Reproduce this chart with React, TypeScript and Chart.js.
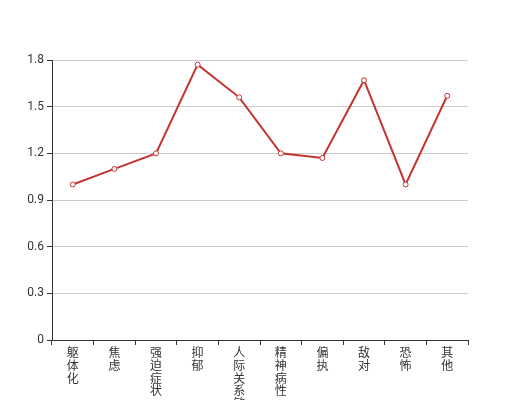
import { useEffect, useRef } from 'react';
import { Chart, registerables } from 'chart.js';

Chart.register(...registerables);

const categories = ['躯体化', '焦虑', '强迫症状', '抑郁', '人际关系敏感', '精神病性', '偏执', '敌对', '恐怖', '其他'];
const values = [1.0, 1.1, 1.2, 1.77, 1.56, 1.2, 1.17, 1.67, 1.0, 1.57];
const yTickValues = [0, 0.3, 0.6, 0.9, 1.2, 1.5, 1.8];

const FONT = "Roboto, 'Noto Sans CJK SC', sans-serif";

export default function App() {
  const ref = useRef<HTMLCanvasElement | null>(null);

  useEffect(() => {
    document.body.style.margin = '0';
    const canvas = ref.current;
    if (!canvas) return;
    const chart = new Chart(canvas, {
      type: 'line',
      data: {
        labels: categories.map((c) => c.split('')),
        datasets: [
          {
            data: values,
            borderColor: '#c23531',
            borderWidth: 2,
            pointRadius: 2.5,
            pointBackgroundColor: '#fff',
            pointBorderColor: '#c23531',
            pointBorderWidth: 1,
            tension: 0,
            fill: false,
          },
        ],
      },
      options: {
        animation: false,
        responsive: true,
        maintainAspectRatio: false,
        layout: { padding: { top: 60, right: 52, left: 0, bottom: 0 } },
        plugins: { legend: { display: false }, tooltip: { enabled: false } },
        scales: {
          x: {
            type: 'category',
            offset: true,
            grid: {
              display: true,
              offset: true,
              drawOnChartArea: false,
              drawTicks: true,
              tickLength: 5,
              color: '#333',
              tickColor: '#333',
            },
            border: { display: true, color: '#333', width: 1 },
            ticks: {
              color: '#333',
              font: { family: FONT, size: 12, lineHeight: 1.05 },
              padding: 3,
              maxRotation: 0,
              autoSkip: false,
            },
            afterFit: (scale: any) => {
              scale.height = 60;
            },
          },
          y: {
            min: 0,
            max: 1.8,
            afterBuildTicks: (scale: any) => {
              scale.ticks = yTickValues.map((v) => ({ value: v }));
            },
            grid: {
              color: '#ccc',
              tickColor: '#333',
              drawTicks: true,
              tickLength: 5,
            },
            border: { display: true, color: '#333', width: 1 },
            ticks: {
              color: '#333',
              font: { family: FONT, size: 12 },
              padding: 3,
              callback: (v: any) => String(Number(Number(v).toFixed(1))),
            },
            afterFit: (scale: any) => {
              scale.width = 52;
            },
          },
        },
      },
    });
    return () => chart.destroy();
  }, []);

  return (
    <div style={{ position: 'relative', width: 520, height: 400 }}>
      <canvas ref={ref} />
    </div>
  );
}
